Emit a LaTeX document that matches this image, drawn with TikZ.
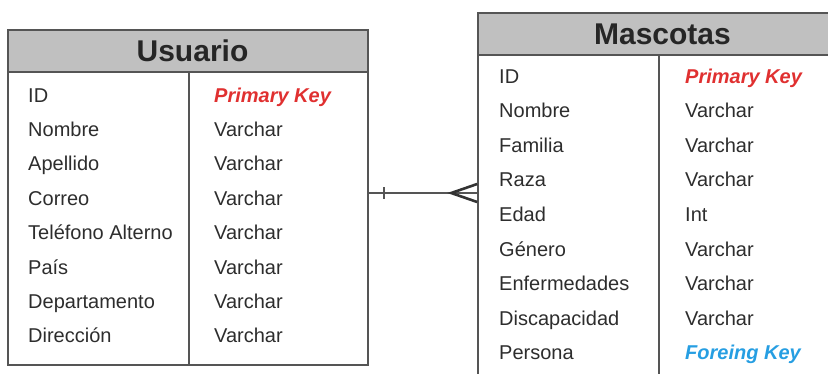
\documentclass[tikz,border=0pt]{standalone}
\usepackage{fontspec}
\setmainfont{Liberation Sans}
\usetikzlibrary{positioning}
\definecolor{tHead}{RGB}{192,192,192}
\definecolor{tLine}{RGB}{85,85,85}
\definecolor{tText}{RGB}{45,45,45}
\definecolor{keyRed}{RGB}{224,48,48}
\definecolor{keyBlue}{RGB}{38,158,226}
\tikzset{
  tablehead/.style={
    rectangle, draw=tLine, fill=tHead, line width=2pt,
    inner sep=0pt, minimum width=360pt, minimum height=42pt,
    font=\fontsize{30}{36}\selectfont\bfseries, text=black!85,
    execute at begin node=\hspace*{9pt}
  },
  tablebody/.style={
    rectangle, draw=tLine, line width=1.6pt,
    inner sep=0pt, minimum width=360pt
  },
  field/.style={anchor=base west, inner sep=0pt, font=\fontsize{20}{24}\selectfont, text=tText},
  pk/.style={field, font=\fontsize{20}{24}\selectfont\bfseries\itshape, text=keyRed},
  fk/.style={field, font=\fontsize{20}{24}\selectfont\bfseries\itshape, text=keyBlue},
  coldiv/.style={draw=tLine, line width=1.6pt},
  relline/.style={draw=tLine, line width=1.4pt}
}

\begin{document}
\begin{tikzpicture}[x=1pt,y=-1pt]
\useasboundingbox (0,0) rectangle (828,373);
\clip (0,0) rectangle (828,373);
\node[tablebody,minimum height=293pt] (ub) at (188,218.5) {};
\node[tablehead] (uh) at (188,51) {Usuario};
\draw[coldiv] (189,72) -- (189,365);
\foreach \fname/\fstyle/\ftype [count=\i from 0] in {ID/pk/Primary Key, Nombre/field/Varchar, Apellido/field/Varchar, Correo/field/Varchar, Teléfono Alterno/field/Varchar, País/field/Varchar, Departamento/field/Varchar, Dirección/field/Varchar}{
  \node[field] (u-\i) at (28,{102+34.4*\i}) {\fname};
  \node[\fstyle] (ut-\i) at (214,{102+34.4*\i}) {\ftype};
}
\node[tablebody,minimum height=345pt] (mb) at (658,227.5) {};
\node[tablehead] (mh) at (658,34) {Mascotas};
\draw[coldiv] (659,55) -- (659,400);
\foreach \fname/\fstyle/\ftype [count=\i from 0] in {ID/pk/Primary Key, Nombre/field/Varchar, Familia/field/Varchar, Raza/field/Varchar, Edad/field/Int, Género/field/Varchar, Enfermedades/field/Varchar, Discapacidad/field/Varchar, Persona/fk/Foreing Key}{
  \node[field] (m-\i) at (499,{83+34.6*\i}) {\fname};
  \node[\fstyle] (mt-\i) at (685,{83+34.6*\i}) {\ftype};
}
\coordinate (link) at (0,193);
\draw[relline] (ub.east |- link) -- (mb.west |- link);
\draw[relline] (ub.east |- link) ++(15,-6) -- ++(0,12);
\draw[relline,draw=black!80,line width=2.6pt] (mb.west |- link) ++(0,-9) -- ++(-26,9) -- ++(26,9);
\end{tikzpicture}
\end{document}
